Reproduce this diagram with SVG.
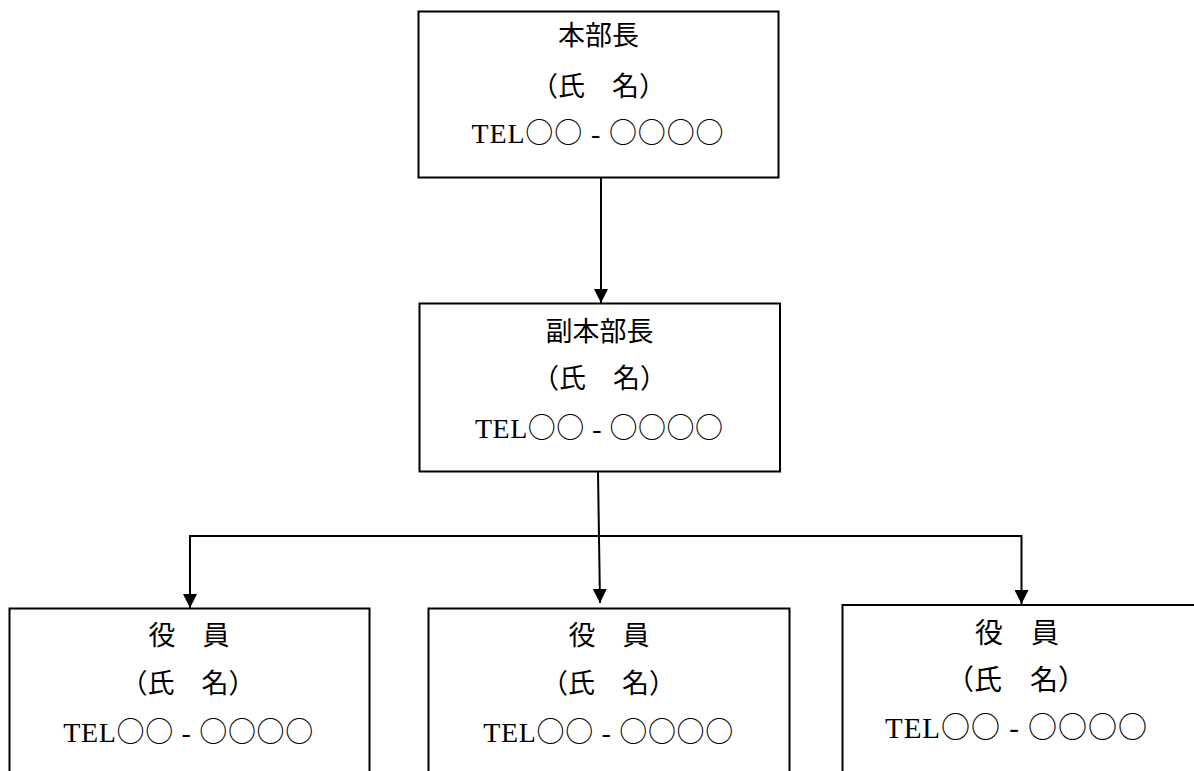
<svg xmlns="http://www.w3.org/2000/svg" width="1194" height="771" viewBox="0 0 1194 771">
<style>
.box{fill:#fff;stroke:#000;stroke-width:2}
.cn{fill:none;stroke:#000;stroke-width:2}
.jp{font-family:"Noto Sans CJK JP","Noto Sans CJK SC",sans-serif;font-size:27px;fill:#000;text-anchor:middle}
.tel{font-family:"Liberation Serif","Noto Sans CJK JP",serif;font-size:28px;fill:#000;text-anchor:middle}
.c{font-family:"Noto Sans CJK JP","Noto Sans CJK SC",sans-serif}
</style>
<defs>
<marker id="ah" markerUnits="userSpaceOnUse" markerWidth="14" markerHeight="14" refX="14" refY="7" orient="auto">
<path d="M0,0 L14,7 L0,14 z" fill="#000"/>
</marker>
</defs>
<g id="connectors">
<path class="cn" d="M601,177 L601,303" marker-end="url(#ah)"/>
<path class="cn" d="M598,472 L600,603" marker-end="url(#ah)"/>
<path class="cn" d="M599,536 L190,536 L190,608" marker-end="url(#ah)"/>
<path class="cn" d="M599,536 L1021.5,536 L1021.5,604" marker-end="url(#ah)"/>
</g>
<g id="honbucho">
<rect class="box" x="418.5" y="11.5" width="360" height="166"/>
<text class="jp" x="598.5" y="45">本部長</text>
<text class="jp" x="598.5" y="96">（氏　名）</text>
<text class="tel" x="597.5" y="143" textLength="252" lengthAdjust="spacing">TEL<tspan class="c">○○</tspan> - <tspan class="c">○○○○</tspan></text>
</g>
<g id="fukuhonbucho">
<rect class="box" x="419.5" y="303.5" width="360.5" height="168"/>
<text class="jp" x="599.5" y="341">副本部長</text>
<text class="jp" x="599.5" y="388">（氏　名）</text>
<text class="tel" x="599" y="438" textLength="248" lengthAdjust="spacing">TEL<tspan class="c">○○</tspan> - <tspan class="c">○○○○</tspan></text>
</g>
<g id="yakuin1">
<rect class="box" x="9.5" y="608.5" width="360" height="200"/>
<text class="jp" x="189" y="645">役　員</text>
<text class="jp" x="188" y="693">（氏　名）</text>
<text class="tel" x="188.3" y="741.7" textLength="250" lengthAdjust="spacing">TEL<tspan class="c">○○</tspan> - <tspan class="c">○○○○</tspan></text>
</g>
<g id="yakuin2">
<rect class="box" x="428.5" y="608.5" width="361" height="200"/>
<text class="jp" x="609" y="645">役　員</text>
<text class="jp" x="608.5" y="693">（氏　名）</text>
<text class="tel" x="608.3" y="741.7" textLength="250" lengthAdjust="spacing">TEL<tspan class="c">○○</tspan> - <tspan class="c">○○○○</tspan></text>
</g>
<g id="yakuin3">
<rect class="box" x="842.5" y="605" width="400" height="200"/>
<text class="jp" x="1017" y="643" style="font-size:28px">役　員</text>
<text class="jp" x="1016" y="690" style="font-size:28px">（氏　名）</text>
<text class="tel" x="1016" y="738.3" textLength="262" lengthAdjust="spacing" style="font-size:29px">TEL<tspan class="c">○○</tspan> - <tspan class="c">○○○○</tspan></text>
</g>
</svg>
